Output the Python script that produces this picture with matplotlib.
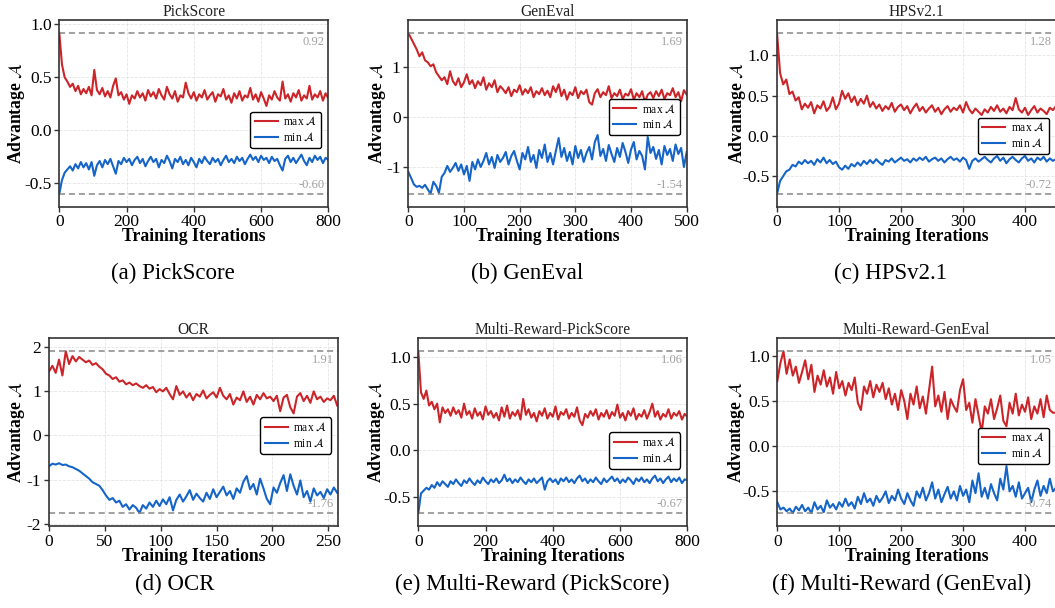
import numpy as np
import matplotlib.pyplot as plt
from matplotlib.ticker import MultipleLocator, FormatStrFormatter

plt.rcParams['font.family'] = ['Liberation Serif', 'DejaVu Serif']
plt.rcParams['mathtext.fontset'] = 'stix'

pick_max = [0.92, 0.62, 0.50, 0.46, 0.41, 0.44, 0.37, 0.42, 0.34, 0.39, 0.35, 0.41, 0.33, 0.57, 0.38, 0.34, 0.40,
            0.32, 0.37, 0.31, 0.42, 0.49, 0.33, 0.36, 0.29, 0.34, 0.25, 0.33, 0.30, 0.37, 0.31, 0.35, 0.28, 0.38,
            0.32, 0.36, 0.30, 0.39, 0.33, 0.29, 0.41, 0.34, 0.30, 0.37, 0.27, 0.33, 0.31, 0.45, 0.35, 0.30, 0.36,
            0.28, 0.34, 0.31, 0.38, 0.29, 0.33, 0.36, 0.27, 0.34, 0.32, 0.39, 0.29, 0.33, 0.26, 0.35, 0.30, 0.37,
            0.28, 0.33, 0.31, 0.40, 0.29, 0.34, 0.27, 0.36, 0.30, 0.23, 0.33, 0.29, 0.37, 0.31, 0.28, 0.46, 0.30,
            0.34, 0.27, 0.35, 0.31, 0.38, 0.28, 0.33, 0.30, 0.42, 0.29, 0.34, 0.31, 0.37, 0.28, 0.35, 0.30]
pick_min = [-0.60, -0.47, -0.40, -0.37, -0.34, -0.38, -0.32, -0.36, -0.30, -0.35, -0.31, -0.37, -0.30, -0.43,
            -0.33, -0.29, -0.35, -0.28, -0.32, -0.27, -0.34, -0.41, -0.29, -0.32, -0.26, -0.30, -0.27, -0.33,
            -0.28, -0.25, -0.31, -0.27, -0.34, -0.29, -0.25, -0.30, -0.27, -0.35, -0.28, -0.31, -0.24, -0.29,
            -0.36, -0.27, -0.30, -0.25, -0.32, -0.28, -0.33, -0.26, -0.30, -0.35, -0.27, -0.31, -0.25, -0.29,
            -0.32, -0.26, -0.30, -0.27, -0.33, -0.28, -0.24, -0.30, -0.27, -0.31, -0.25, -0.29, -0.26, -0.32,
            -0.27, -0.23, -0.28, -0.25, -0.30, -0.24, -0.28, -0.26, -0.31, -0.25, -0.29, -0.27, -0.33, -0.38,
            -0.27, -0.24, -0.30, -0.26, -0.31, -0.27, -0.23, -0.29, -0.33, -0.26, -0.30, -0.24, -0.28, -0.25,
            -0.31, -0.26, -0.28]

geneval_max = [1.69, 1.58, 1.47, 1.36, 1.22, 1.30, 1.14, 1.10, 1.02, 1.06, 0.90, 0.82, 0.74, 0.80, 0.66, 0.92,
               0.72, 0.64, 0.78, 0.60, 0.70, 0.86, 0.66, 0.74, 0.58, 0.72, 0.64, 0.80, 0.55, 0.68, 0.60, 0.74,
               0.50, 0.62, 0.56, 0.48, 0.60, 0.42, 0.55, 0.50, 0.64, 0.45, 0.56, 0.48, 0.60, 0.40, 0.52, 0.46,
               0.58, 0.44, 0.53, 0.40, 0.62, 0.50, 0.66, 0.42, 0.55, 0.35, 0.50, 0.44, 0.60, 0.38, 0.52, 0.46,
               0.55, 0.30, 0.25, 0.48, 0.56, 0.40, 0.50, 0.44, 0.62, 0.38, 0.48, 0.42, 0.55, 0.36, 0.47, 0.43,
               0.56, 0.35, 0.48, 0.40, 0.52, 0.30, 0.45, 0.50, 0.38, 0.52, 0.42, 0.55, 0.36, 0.48, 0.44, 0.58,
               0.40, 0.50, 0.32, 0.54, 0.45]
geneval_min = [-1.10, -1.22, -1.35, -1.40, -1.38, -1.42, -1.36, -1.45, -1.54, -1.30, -1.38, -1.52, -1.20, -1.12,
               -0.98, -1.10, -1.02, -0.92, -1.08, -0.95, -1.15, -0.98, -1.28, -0.90, -1.05, -0.85, -1.00, -0.88,
               -0.72, -0.95, -0.80, -1.02, -0.76, -0.90, -0.82, -0.70, -0.95, -0.78, -0.68, -0.88, -1.05, -0.72,
               -0.85, -0.60, -0.90, -0.76, -1.02, -0.66, -0.82, -0.55, -0.90, -0.72, -0.95, -0.68, -0.42, -0.80,
               -0.62, -0.88, -0.70, -0.95, -0.58, -0.82, -0.66, -0.90, -0.72, -0.60, -0.85, -0.50, -0.36, -0.78,
               -0.64, -0.88, -0.56, -0.74, -0.90, -0.62, -0.80, -0.52, -0.70, -0.92, -0.65, -0.50, -0.85, -0.68,
               -0.78, -1.05, -0.40, -0.72, -0.60, -0.84, -0.66, -0.95, -0.58, -0.76, -0.64, -0.88, -0.55, -0.74,
               -0.62, -1.00, -0.70]

hps_max = [1.28, 0.78, 0.64, 0.70, 0.52, 0.55, 0.44, 0.48, 0.33, 0.40, 0.35, 0.42, 0.28, 0.38, 0.34, 0.43, 0.31,
           0.36, 0.48, 0.33, 0.40, 0.56, 0.46, 0.53, 0.42, 0.49, 0.38, 0.46, 0.40, 0.50, 0.36, 0.42, 0.34, 0.39,
           0.31, 0.37, 0.33, 0.41, 0.30, 0.36, 0.39, 0.32, 0.37, 0.28, 0.35, 0.40, 0.31, 0.36, 0.29, 0.34, 0.38,
           0.30, 0.35, 0.27, 0.33, 0.37, 0.30, 0.35, 0.32, 0.38, 0.29, 0.42, 0.33, 0.28, 0.34, 0.30, 0.26, 0.33,
           0.29, 0.36, 0.31, 0.38, 0.30, 0.34, 0.28, 0.36, 0.32, 0.47, 0.33, 0.29, 0.35, 0.26, 0.32, 0.37, 0.29,
           0.34, 0.31, 0.27, 0.35, 0.32, 0.37]
hps_min = [-0.72, -0.56, -0.50, -0.44, -0.42, -0.36, -0.38, -0.32, -0.35, -0.30, -0.34, -0.31, -0.36, -0.29,
           -0.33, -0.27, -0.34, -0.30, -0.35, -0.32, -0.39, -0.42, -0.37, -0.41, -0.35, -0.38, -0.33, -0.37,
           -0.31, -0.35, -0.30, -0.34, -0.29, -0.33, -0.36, -0.30, -0.32, -0.28, -0.33, -0.30, -0.27, -0.31,
           -0.29, -0.33, -0.28, -0.31, -0.27, -0.30, -0.26, -0.32, -0.29, -0.27, -0.31, -0.28, -0.33, -0.29,
           -0.26, -0.30, -0.28, -0.32, -0.27, -0.30, -0.41, -0.31, -0.28, -0.32, -0.29, -0.26, -0.30, -0.33,
           -0.28, -0.25, -0.31, -0.27, -0.34, -0.29, -0.26, -0.30, -0.33, -0.28, -0.25, -0.31, -0.28, -0.33,
           -0.27, -0.30, -0.26, -0.32, -0.28, -0.31, -0.29]

ocr_max = [1.45, 1.58, 1.42, 1.72, 1.36, 1.91, 1.62, 1.80, 1.68, 1.78, 1.72, 1.66, 1.70, 1.60, 1.64, 1.56, 1.50,
           1.40, 1.36, 1.28, 1.32, 1.22, 1.25, 1.16, 1.20, 1.14, 1.18, 1.12, 1.08, 1.14, 1.06, 1.10, 0.98, 1.05,
           1.00, 1.08, 0.94, 0.82, 1.12, 0.92, 1.00, 0.86, 0.96, 0.80, 0.94, 0.88, 1.02, 0.84, 0.92, 0.98, 0.86,
           1.08, 0.90, 0.82, 0.94, 0.70, 0.86, 0.80, 1.00, 0.76, 0.88, 0.70, 0.92, 0.82, 0.96, 0.84, 0.88, 0.78,
           0.90, 0.55, 0.86, 0.92, 0.64, 0.50, 0.88, 0.96, 0.78, 0.90, 0.74, 1.00, 0.82, 0.88, 0.76, 0.84, 0.80,
           0.90, 0.68]
ocr_min = [-0.70, -0.64, -0.66, -0.63, -0.67, -0.66, -0.70, -0.72, -0.76, -0.80, -0.86, -0.92, -0.98, -1.06,
           -1.10, -1.14, -1.24, -1.36, -1.46, -1.42, -1.52, -1.48, -1.62, -1.56, -1.68, -1.58, -1.64, -1.76,
           -1.58, -1.66, -1.52, -1.62, -1.48, -1.60, -1.45, -1.56, -1.40, -1.70, -1.46, -1.34, -1.50, -1.38,
           -1.24, -1.46, -1.32, -1.42, -1.50, -1.30, -1.44, -1.22, -1.40, -1.28, -1.16, -1.36, -1.26, -1.44,
           -1.20, -1.30, -1.05, -0.92, -1.22, -1.10, -1.34, -0.98, -1.20, -1.44, -1.56, -1.18, -1.30, -1.08,
           -0.90, -1.26, -0.88, -1.14, -1.34, -1.02, -1.40, -1.26, -1.50, -1.20, -1.36, -1.28, -1.42, -1.22,
           -1.34, -1.18, -1.30]

mr_pick_max = [1.06, 0.62, 0.55, 0.64, 0.48, 0.52, 0.44, 0.50, 0.30, 0.46, 0.40, 0.44, 0.37, 0.46, 0.39, 0.43,
               0.35, 0.50, 0.38, 0.42, 0.34, 0.45, 0.37, 0.41, 0.33, 0.47, 0.38, 0.42, 0.35, 0.40, 0.32, 0.46,
               0.36, 0.48, 0.34, 0.41, 0.37, 0.43, 0.33, 0.55, 0.38, 0.44, 0.35, 0.40, 0.31, 0.42, 0.37, 0.45,
               0.34, 0.40, 0.36, 0.47, 0.33, 0.41, 0.38, 0.44, 0.34, 0.40, 0.36, 0.46, 0.32, 0.27, 0.39, 0.35,
               0.42, 0.37, 0.44, 0.33, 0.40, 0.36, 0.43, 0.34, 0.41, 0.37, 0.49, 0.35, 0.40, 0.32, 0.42, 0.37,
               0.45, 0.33, 0.39, 0.36, 0.43, 0.34, 0.41, 0.50, 0.36, 0.42, 0.33, 0.39, 0.36, 0.44, 0.34, 0.40,
               0.37, 0.42, 0.33, 0.39, 0.36]
mr_pick_min = [-0.67, -0.46, -0.43, -0.40, -0.42, -0.37, -0.40, -0.34, -0.38, -0.33, -0.36, -0.39, -0.33, -0.36,
               -0.31, -0.35, -0.38, -0.32, -0.35, -0.30, -0.34, -0.37, -0.32, -0.35, -0.29, -0.33, -0.36, -0.31,
               -0.34, -0.30, -0.35, -0.32, -0.26, -0.33, -0.30, -0.35, -0.31, -0.34, -0.29, -0.33, -0.36, -0.31,
               -0.34, -0.30, -0.35, -0.32, -0.29, -0.42, -0.33, -0.30, -0.34, -0.31, -0.36, -0.30, -0.33, -0.29,
               -0.34, -0.31, -0.35, -0.30, -0.27, -0.33, -0.30, -0.35, -0.31, -0.34, -0.29, -0.33, -0.36, -0.30,
               -0.34, -0.31, -0.28, -0.33, -0.30, -0.35, -0.31, -0.34, -0.29, -0.32, -0.36, -0.30, -0.33, -0.29,
               -0.34, -0.31, -0.35, -0.30, -0.27, -0.33, -0.30, -0.35, -0.31, -0.28, -0.34, -0.30, -0.33, -0.29,
               -0.35, -0.31, -0.32]

mr_gen_max = [0.72, 0.92, 1.05, 0.80, 0.96, 0.78, 0.88, 0.70, 0.82, 0.95, 0.74, 0.90, 0.60, 0.78, 0.68, 0.84,
              0.66, 0.76, 0.58, 0.82, 0.64, 0.72, 0.56, 0.70, 0.62, 0.76, 0.48, 0.40, 0.66, 0.58, 0.72, 0.54,
              0.68, 0.60, 0.70, 0.52, 0.64, 0.46, 0.58, 0.40, 0.62, 0.50, 0.30, 0.58, 0.46, 0.66, 0.42, 0.55,
              0.36, 0.62, 0.88, 0.44, 0.56, 0.38, 0.60, 0.30, 0.52, 0.44, 0.38, 0.62, 0.74, 0.40, 0.48, 0.26,
              0.52, 0.34, 0.15, 0.44, 0.36, 0.52, 0.30, 0.42, 0.56, 0.28, 0.22, 0.48, 0.36, 0.58, 0.34, 0.46,
              0.38, 0.54, 0.30, 0.44, 0.36, 0.52, 0.32, 0.56, 0.40, 0.37, 0.37]
mr_gen_min = [-0.62, -0.70, -0.68, -0.72, -0.69, -0.74, -0.67, -0.71, -0.65, -0.72, -0.68, -0.74, -0.62, -0.70,
              -0.66, -0.73, -0.60, -0.68, -0.64, -0.70, -0.62, -0.67, -0.58, -0.66, -0.62, -0.69, -0.56, -0.64,
              -0.52, -0.62, -0.58, -0.66, -0.55, -0.62, -0.57, -0.50, -0.63, -0.55, -0.60, -0.48, -0.58, -0.64,
              -0.52, -0.60, -0.66, -0.50, -0.57, -0.46, -0.60, -0.52, -0.40, -0.58, -0.48, -0.62, -0.53, -0.45,
              -0.58, -0.50, -0.60, -0.44, -0.55, -0.48, -0.62, -0.38, -0.52, -0.30, -0.56, -0.46, -0.58, -0.42,
              -0.52, -0.60, -0.36, -0.48, -0.22, -0.50, -0.44, -0.56, -0.40, -0.58, -0.52, -0.46, -0.62, -0.48,
              -0.38, -0.55, -0.44, -0.52, -0.36, -0.50, -0.46]

titles = ['PickScore', 'GenEval', 'HPSv2.1', 'OCR', 'Multi-Reward-PickScore', 'Multi-Reward-GenEval']
captions = ['(a) PickScore', '(b) GenEval', '(c) HPSv2.1', '(d) OCR',
            '(e) Multi-Reward (PickScore)', '(f) Multi-Reward (GenEval)']
max_series = [pick_max, geneval_max, hps_max, ocr_max, mr_pick_max, mr_gen_max]
min_series = [pick_min, geneval_min, hps_min, ocr_min, mr_pick_min, mr_gen_min]
last_iter = [800, 500, 450, 258, 800, 450]
x_limits = [800, 500, 450, 259, 800, 450]
x_steps = [200, 100, 100, 50, 200, 100]
y_steps = [0.5, 1, 0.5, 1, 0.5, 0.5]

RED = '#cc2529'
BLUE = '#1565c8'
W, H = 1055, 608

# posiciones de los ejes en pixeles: izquierda, arriba, derecha, abajo
boxes = [(59.3, 20, 328.3, 206.7), (408.3, 20, 686.7, 206.7), (777, 20, 1056, 206.7),
         (49, 338.3, 338.3, 526), (418.3, 338.3, 687.3, 526), (777.3, 338.3, 1056, 526)]
ylabel_edge = [27, 388, 748, 27, 387, 747]   # borde derecho de la etiqueta y, en pixeles
legend_y = [0.411, 0.48, 0.379, 0.482, 0.402, 0.426]
caption_pos = [(173, 273), (527, 273), (890, 273), (175, 584), (532, 584), (902, 584)]

fig = plt.figure(figsize=(W / 100, H / 100), dpi=100)

for i in range(6):
    l, t, r, b = boxes[i]
    ax = fig.add_axes([l / W, 1 - b / H, (r - l) / W, (b - t) / H])

    ymax = np.array(max_series[i])
    ymin = np.array(min_series[i])
    x = np.linspace(0, last_iter[i], len(ymax))
    x2 = np.linspace(0, last_iter[i], len(ymin))

    ax.plot(x, ymax, color=RED, lw=1.5, label=r'max $\mathcal{A}$')
    ax.plot(x2, ymin, color=BLUE, lw=1.5, label=r'min $\mathcal{A}$')

    # lineas de referencia con el maximo y minimo global
    top, bot = ymax.max(), ymin.min()
    ax.axhline(top, color='#888888', lw=1.1, ls=(0, (4, 2.5)))
    ax.axhline(bot, color='#888888', lw=1.1, ls=(0, (4, 2.5)))
    ax.annotate(f'{top:.2f}', xy=(0.985, top), xycoords=('axes fraction', 'data'),
                xytext=(0, -2), textcoords='offset points', ha='right', va='top',
                color='#a0a0a0', fontsize=9)
    ax.annotate(f'{bot:.2f}', xy=(0.985, bot), xycoords=('axes fraction', 'data'),
                xytext=(0, 2), textcoords='offset points', ha='right', va='bottom',
                color='#a0a0a0', fontsize=9)

    span = top - bot
    ax.set_ylim(bot - 0.08 * span, top + 0.08 * span)
    ax.set_xlim(0, x_limits[i])
    ax.xaxis.set_major_locator(MultipleLocator(x_steps[i]))
    ax.yaxis.set_major_locator(MultipleLocator(y_steps[i]))
    if y_steps[i] < 1:
        ax.yaxis.set_major_formatter(FormatStrFormatter('%.1f'))
    else:
        ax.yaxis.set_major_formatter(FormatStrFormatter('%d'))
    ax.tick_params(labelsize=12.5, length=3.5, width=1, color='#333333', pad=2)

    ax.grid(True, ls='--', lw=0.6, color='#dddddd', alpha=0.8)
    for s in ax.spines.values():
        s.set_color('#333333')
        s.set_linewidth(1.2)

    ax.set_title(titles[i], fontsize=11.2, pad=3, color='#222222')
    ax.set_xlabel('Training Iterations', fontsize=12.7, fontweight='bold', labelpad=-1.5)
    ax.set_ylabel(r'Advantage $\mathcal{A}$', fontsize=12.7, fontweight='bold')
    ax.yaxis.set_label_coords((ylabel_edge[i] - l) / (r - l), 0.5)

    leg = ax.legend(loc='center right', bbox_to_anchor=(1, legend_y[i]), fontsize=8.3,
                    frameon=True, fancybox=True, framealpha=1, borderaxespad=0.6,
                    handlelength=2.0, handletextpad=0.5, labelspacing=0.3, borderpad=0.35)
    leg.get_frame().set_edgecolor('black')
    leg.get_frame().set_linewidth(1.0)

    cx, cy = caption_pos[i]
    fig.text(cx / W, 1 - cy / H, captions[i], fontsize=16.5, ha='center', va='center')

fig.savefig('out.png', dpi=100)
